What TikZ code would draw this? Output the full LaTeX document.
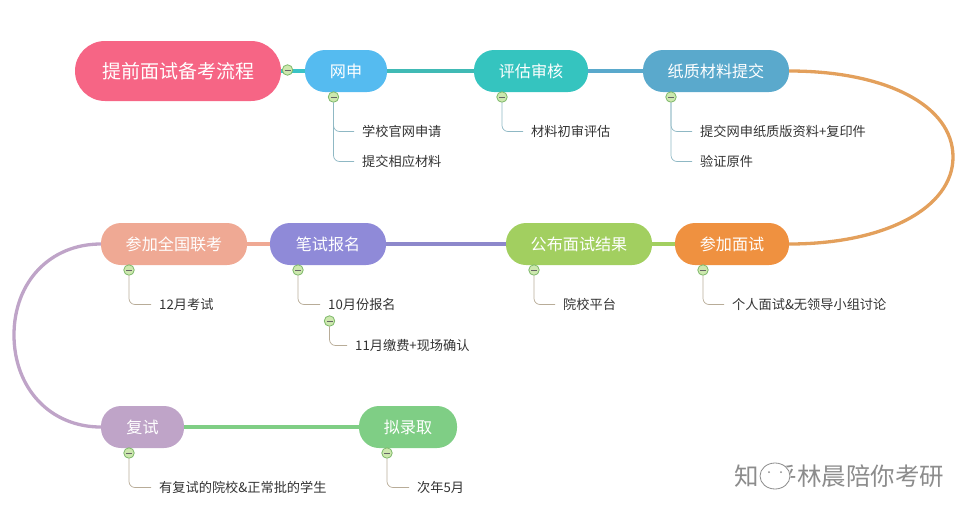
\documentclass[tikz,border=0pt]{standalone}
\usepackage{fontspec}
\setmainfont{Noto Sans CJK SC}
\definecolor{cRoot}{HTML}{F66585}
\definecolor{cNet}{HTML}{55BBF0}
\definecolor{cEval}{HTML}{35C4BF}
\definecolor{cPaper}{HTML}{5AA9CC}
\definecolor{cIntv}{HTML}{EF9140}
\definecolor{cPub}{HTML}{A2CF60}
\definecolor{cWrit}{HTML}{8F8AD8}
\definecolor{cJoin}{HTML}{EFA994}
\definecolor{cRe}{HTML}{BFA4C8}
\definecolor{cAdm}{HTML}{7FCE85}
\definecolor{cCurve}{HTML}{E3A05C}
\definecolor{cToggleFill}{HTML}{CDE8AE}
\definecolor{cToggleLine}{HTML}{7DB86A}
\definecolor{cTwigBlue}{HTML}{8FB8C4}
\definecolor{cTwigBrown}{HTML}{B8AC98}
\tikzset{
  x=1pt,y=-1pt,
  stage/.style={fill=#1,text=white,rounded corners=20pt,inner sep=0pt,minimum height=42pt,font=\fontsize{16.1}{18}\selectfont},
  link/.style={line width=3.3pt,color=#1},
  toggle/.style={circle,draw=cToggleLine,line width=0.8pt,fill=cToggleFill,minimum size=10.5pt,inner sep=0pt,path picture={\draw[black!60,line width=0.6pt] ([xshift=-3pt]path picture bounding box.center) -- ([xshift=3pt]path picture bounding box.center);}},
  leaf/.style={text=black!80,inner sep=0pt,font=\fontsize{13.2}{15}\selectfont},
  twig/.style={line width=0.7pt,color=#1,rounded corners=6pt},
  mark text/.style={text=black!45,inner sep=0pt,font=\fontsize{24.5}{26}\selectfont}
}
\begin{document}
\begin{tikzpicture}
\useasboundingbox (0,0) rectangle (969,515);
% main nodes
\node[fill=cRoot,text=white,rounded corners=30pt,inner sep=0pt,minimum width=206pt,minimum height=60pt,font=\fontsize{19}{22}\selectfont] (root) at (178,71) {提前面试备考流程};
\node[stage=cNet,minimum width=82pt] (net) at (346,71) {网申};
\node[stage=cEval,minimum width=114pt] (eval) at (531,71) {评估审核};
\node[stage=cPaper,minimum width=146pt] (paper) at (716,71) {纸质材料提交};
\node[stage=cIntv,minimum width=114pt] (intv) at (732,244) {参加面试};
\node[stage=cPub,minimum width=146pt] (pub) at (579,244) {公布面试结果};
\node[stage=cWrit,minimum width=116pt] (writ) at (328,244) {笔试报名};
\node[stage=cJoin,minimum width=146pt] (join) at (174,244) {参加全国联考};
\node[stage=cRe,minimum width=83pt] (re) at (142.5,427) {复试};
\node[stage=cAdm,minimum width=98pt] (adm) at (408,427) {拟录取};
% main links
\draw[link=cEval!85!cNet] (root.east) -- (net.west);
\draw[link=cEval!85!gray] (net.east) -- (eval.west);
\draw[link=cPaper] (eval.east) -- (paper.west);
\draw[link=cCurve] (paper.east) .. controls (885,71) and (953,105) .. (953,157) .. controls (953,208) and (885,244) .. (intv.east);
\draw[link=cPub] (intv.west) -- (pub.east);
\draw[link=cWrit!85!gray] (pub.west) -- (writ.east);
\draw[link=cJoin] (writ.west) -- (join.east);
\draw[link=cRe] (join.west) .. controls (50,244) and (14,282) .. (14,335) .. controls (14,388) and (50,427) .. (re.west);
\draw[link=cAdm] (re.east) -- (adm.west);
% toggles
\node[toggle] (t0) at (287.5,70) {};
\node[toggle] (t1) at (333.5,97) {};
\node[toggle] (t2) at (502,97) {};
\node[toggle] (t3) at (671,97) {};
\node[toggle] (t4) at (129,270) {};
\node[toggle] (t5) at (298,270) {};
\node[toggle] (t6) at (534,270) {};
\node[toggle] (t7) at (703,270) {};
\node[toggle] (t8) at (329.5,321) {};
\node[toggle] (t9) at (129,453) {};
\node[toggle] (t10) at (387,453) {};
% leaves
\node[leaf,anchor=west] (a1) at (362,131.5) {学校官网申请};
\node[leaf,anchor=west] (a2) at (362,161.5) {提交相应材料};
\node[leaf,anchor=west] (b1) at (531,131.5) {材料初审评估};
\node[leaf,anchor=west] (c1) at (700,131.5) {提交网申纸质版资料+复印件};
\node[leaf,anchor=west] (c2) at (700,161.5) {验证原件};
\node[leaf,anchor=west] (d1) at (159,304.5) {12月考试};
\node[leaf,anchor=west] (e1) at (328,304.5) {10月份报名};
\node[leaf,anchor=west] (e2) at (355,345.5) {11月缴费+现场确认};
\node[leaf,anchor=west] (f1) at (563,304.5) {院校平台};
\node[leaf,anchor=west] (g1) at (732,304.5) {个人面试\&无领导小组讨论};
\node[leaf,anchor=west] (h1) at (159,487.5) {有复试的院校\&正常批的学生};
\node[leaf,anchor=west] (i1) at (417,487.5) {次年5月};
% twigs
\draw[twig=cTwigBlue] (t1.south) |- ([xshift=-8pt]a1.west);
\draw[twig=cTwigBlue] (t1.south) |- ([xshift=-8pt]a2.west);
\draw[twig=cTwigBlue] (t2.south) |- ([xshift=-8pt]b1.west);
\draw[twig=cTwigBlue] (t3.south) |- ([xshift=-8pt]c1.west);
\draw[twig=cTwigBlue] (t3.south) |- ([xshift=-8pt]c2.west);
\draw[twig=cTwigBrown] (t4.south) |- ([xshift=-8pt]d1.west);
\draw[twig=cTwigBrown] (t5.south) |- ([xshift=-8pt]e1.west);
\draw[twig=cTwigBrown] (t8.south) |- ([xshift=-8pt]e2.west);
\draw[twig=cTwigBrown] (t6.south) |- ([xshift=-8pt]f1.west);
\draw[twig=cTwigBrown] (t7.south) |- ([xshift=-8pt]g1.west);
\draw[twig=cTwigBrown] (t9.south) |- ([xshift=-8pt]h1.west);
\draw[twig=cTwigBrown] (t10.south) |- ([xshift=-8pt]i1.west);
% watermark
\node[mark text] (w1) at (747,476) {知};
\node[mark text] (w2) at (785,476) {乎};
\node[mark text,anchor=west] (w3) at (797,476) {林晨陪你考研};
\draw[white,line width=1.5pt,fill=white] (775,476) ellipse (15 and 13);
\draw[black!45,line width=0.8pt] (775,476) ellipse (15 and 13);
\fill[black!45] (769,472) circle (1) (781,472) circle (1);
\end{tikzpicture}
\end{document}
